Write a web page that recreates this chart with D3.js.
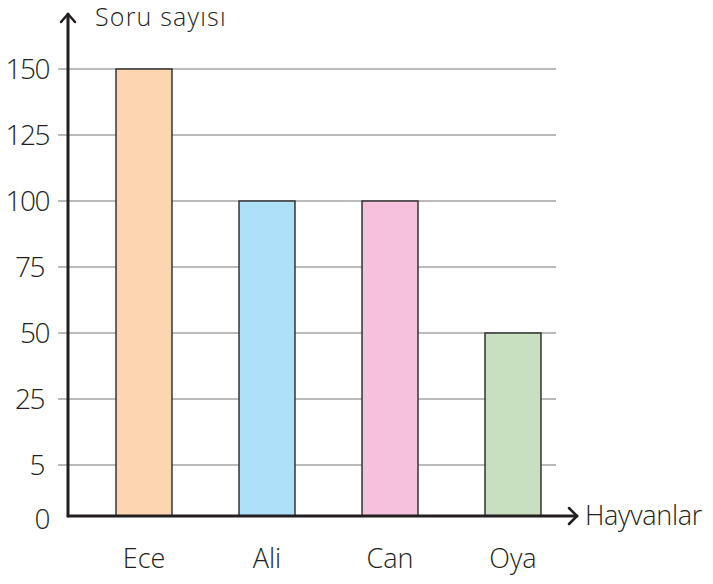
<!DOCTYPE html>
<html><head><meta charset="utf-8">
<script src="https://cdn.jsdelivr.net/npm/d3@7"></script>
<style>
html,body{margin:0;padding:0;background:#fff;}
text{font-family:"Open Sans","DejaVu Sans",sans-serif;fill:#231f20;}
</style></head>
<body><svg id="c" width="713" height="584"></svg>
<script>
const categories = ["Ece", "Ali", "Can", "Oya"];
const values = [150, 100, 100, 50];
const colors = ["#fdd5b1", "#aee0f9", "#f6c1da", "#c8e0c0"];
const tickValues = [0, 5, 25, 50, 75, 100, 125, 150];
const yTitle = "Soru sayısı";
const xTitle = "Hayvanlar";

const svg = d3.select("#c");
const axisX = 68, baseY = 516;

const y = d3.scaleLinear().domain([0, 5, 25, 150]).range([516, 465, 399, 69]);
const x = d3.scaleBand().domain(categories).range([82.5, 574.5]).paddingInner(0.545).paddingOuter(0.2725);

// gridlines
svg.append("g").selectAll("line").data(tickValues.filter(d => d > 0)).join("line")
  .attr("x1", 58).attr("x2", 556)
  .attr("y1", d => y(d)).attr("y2", d => y(d))
  .attr("stroke", "#a3a3a3").attr("stroke-width", 1.5);

// bars
svg.append("g").selectAll("rect").data(categories).join("rect")
  .attr("x", d => x(d)).attr("width", x.bandwidth())
  .attr("y", (d, i) => y(values[i])).attr("height", (d, i) => baseY - y(values[i]))
  .attr("fill", (d, i) => colors[i])
  .attr("stroke", "#333").attr("stroke-width", 1.5);

// y tick labels
const yAxis = d3.axisLeft(y).tickValues(tickValues).tickSize(0).tickPadding(0);
const gy = svg.append("g").attr("transform", "translate(49,0)").call(yAxis);
gy.select(".domain").remove();
gy.selectAll("text").style("font-size", "28px").style("font-weight", 300)
  .attr("letter-spacing", "-1.5").attr("fill", "#231f20").attr("dy", "0.35em");
gy.selectAll(".tick").filter(d => d === 0).select("text").attr("dy", "0.45em");
gy.selectAll(".tick").filter(d => d === 5 || d === 25 || d === 75).select("text").attr("dx", "-5");

// x labels
const xAxis = d3.axisBottom(x).tickSize(0).tickPadding(0);
const gx = svg.append("g").attr("transform", "translate(0,568)").call(xAxis);
gx.select(".domain").remove();
gx.selectAll("text").style("font-size", "27px").style("font-weight", 300)
  .attr("fill", "#231f20").attr("dy", "0");

// axes lines with arrows
const ax = svg.append("g").attr("fill", "none").attr("stroke", "#231f20")
  .attr("stroke-width", 3).attr("stroke-linecap", "round").attr("stroke-linejoin", "round");
ax.append("path").attr("d", `M${axisX},${baseY}V14`);
ax.append("path").attr("d", `M${axisX - 7},22L${axisX},14L${axisX + 7},22`).attr("stroke-width", 2.5);
ax.append("path").attr("d", `M${axisX},${baseY}H577`);
ax.append("path").attr("d", `M569,${baseY - 8}L577,${baseY}L569,${baseY + 8}`).attr("stroke-width", 2.5);

// titles
svg.append("text").attr("x", 95).attr("y", 26).style("font-size", "25px").style("font-weight", 300)
  .attr("letter-spacing", "1.2").text(yTitle);
svg.append("text").attr("x", 585).attr("y", 525).style("font-size", "27px").style("font-weight", 300)
  .attr("letter-spacing", "-0.3").text(xTitle);
</script></body></html>
